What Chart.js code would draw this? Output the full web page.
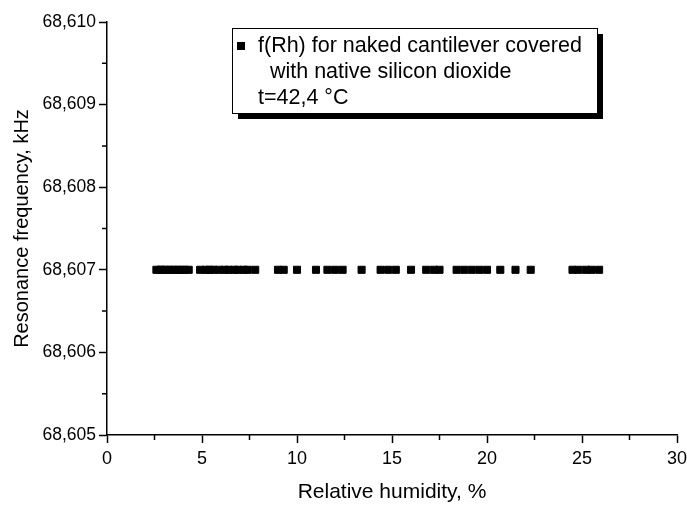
<!DOCTYPE html>
<html>
<head>
<meta charset="utf-8">
<script src="https://cdn.jsdelivr.net/npm/chart.js@4/dist/chart.umd.min.js"></script>
<style>
  html, body { margin: 0; padding: 0; background: #fff; }
  #wrap { width: 687px; height: 505px; }
</style>
</head>
<body>
<div id="wrap"><canvas id="plot" width="687" height="505"></canvas></div>
<script>
// humidity readings (%) and the measured resonance frequency (kHz)
const humidity = [
  2.6, 2.8, 2.9, 3.1, 3.3, 3.5, 3.7, 3.9, 4.1, 4.3,
  4.9, 5.2, 5.4, 5.6, 5.9, 6.2, 6.4, 6.7, 6.9, 7.2, 7.4,
  7.8, 9.0, 9.3, 10.0, 11.0, 11.6, 12.0, 12.4, 13.4,
  14.4, 14.8, 15.2, 16.0, 16.8, 17.2, 17.5,
  18.4, 18.8, 19.2, 19.6, 20.0, 20.7, 21.5, 22.3,
  24.5, 24.8, 25.2, 25.5, 25.9
];
const frequency = humidity.map(() => 68.607);

const xTicks = [0, 5, 10, 15, 20, 25, 30];
const xMinor = [2.5, 7.5, 12.5, 17.5, 22.5, 27.5];
const yTicks = [68.605, 68.606, 68.607, 68.608, 68.609, 68.610];
const yMinor = [68.6055, 68.6065, 68.6075, 68.6085, 68.6095];

const legendLines = [
  'f(Rh) for naked cantilever covered',
  '  with native silicon dioxide',
  't=42,4 \u00B0C'
];

const FONT = "'Liberation Sans', Arial, Helvetica, sans-serif";

// short outward ticks halfway between the labelled ones
const minorTicks = {
  id: 'minorTicks',
  afterDraw(chart) {
    const { ctx, scales: { x, y } } = chart;
    ctx.save();
    ctx.strokeStyle = '#000';
    ctx.lineWidth = 1.5;
    ctx.beginPath();
    xMinor.forEach(v => {
      const px = x.getPixelForValue(v);
      ctx.moveTo(px, y.bottom);
      ctx.lineTo(px, y.bottom + 5);
    });
    yMinor.forEach(v => {
      const py = y.getPixelForValue(v);
      ctx.moveTo(x.left, py);
      ctx.lineTo(x.left - 5, py);
    });
    ctx.stroke();
    ctx.restore();
  }
};

// framed legend with a solid drop shadow
const boxLegend = {
  id: 'boxLegend',
  afterDraw(chart) {
    const { ctx, chartArea: a } = chart;
    const left = a.left + 125, top = a.top + 6, w = 365, h = 85;
    ctx.save();
    ctx.fillStyle = '#000';
    ctx.fillRect(left + 6, top + 6, w, h);
    ctx.fillStyle = '#fff';
    ctx.fillRect(left, top, w, h);
    ctx.strokeStyle = '#000';
    ctx.lineWidth = 1;
    ctx.strokeRect(left + 0.5, top + 0.5, w, h);

    ctx.fillStyle = '#000';
    ctx.fillRect(left + 5, top + 14, 8, 8);
    ctx.font = '21.5px ' + FONT;
    ctx.textBaseline = 'middle';
    ctx.fillText(legendLines[0], left + 26, top + 18);
    ctx.fillText(legendLines[1], left + 26, top + 44);
    ctx.fillText(legendLines[2], left + 26, top + 70);
    ctx.restore();
  }
};

new Chart(document.getElementById('plot'), {
  type: 'scatter',
  data: {
    datasets: [{
      label: 'f(Rh)',
      data: humidity.map((h, i) => ({ x: h, y: frequency[i] })),
      pointStyle: 'rect',
      pointRadius: 5,
      pointBorderWidth: 1,
      backgroundColor: '#000',
      borderColor: '#000'
    }]
  },
  options: {
    responsive: false,
    animation: false,
    layout: { padding: { left: 0, right: 10, top: 22, bottom: 0 } },
    plugins: {
      legend: { display: false },
      tooltip: { enabled: false }
    },
    scales: {
      x: {
        type: 'linear',
        min: 0,
        max: 30,
        afterBuildTicks: s => { s.ticks = xTicks.map(v => ({ value: v })); },
        afterFit: s => { s.height = 70; s.paddingLeft = 0; s.paddingRight = 0; },
        grid: { drawOnChartArea: false, drawTicks: true, tickLength: 8, tickColor: '#000', tickWidth: 1.5 },
        border: { color: '#000', width: 1.5 },
        ticks: { color: '#000', padding: 5, font: { family: FONT, size: 18 } },
        title: {
          display: true,
          text: 'Relative humidity, %',
          color: '#000',
          font: { family: FONT, size: 21 },
          padding: { top: 10, bottom: 0 }
        }
      },
      y: {
        type: 'linear',
        min: 68.605,
        max: 68.610,
        afterBuildTicks: s => { s.ticks = yTicks.map(v => ({ value: v })); },
        afterFit: s => { s.width = 107; },
        grid: { drawOnChartArea: false, drawTicks: true, tickLength: 8, tickColor: '#000', tickWidth: 1.5 },
        border: { color: '#000', width: 1.5 },
        ticks: {
          color: '#000',
          padding: 3,
          font: { family: FONT, size: 17.5 },
          callback: v => v.toFixed(3).replace('.', ',')
        },
        title: {
          display: true,
          text: 'Resonance frequency, kHz',
          color: '#000',
          font: { family: FONT, size: 20 },
          padding: { top: 10, bottom: 4 }
        }
      }
    }
  },
  plugins: [minorTicks, boxLegend]
});
</script>
</body>
</html>
